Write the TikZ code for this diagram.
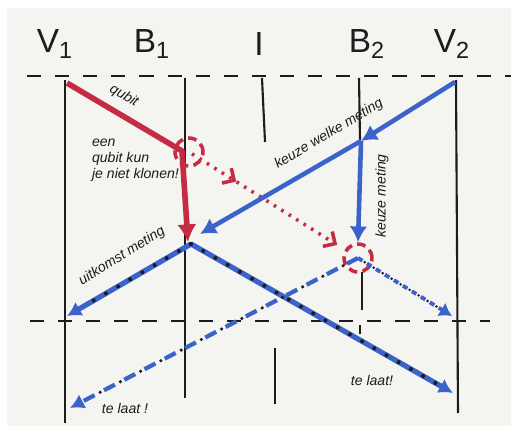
\documentclass[tikz,border=0pt]{standalone}
\usepackage{fontspec}
\setmainfont{Liberation Sans}
\usetikzlibrary{arrows.meta,decorations.markings}
\definecolor{skPaper}{HTML}{F4F4F1}
\definecolor{skInk}{HTML}{1C1C1C}
\definecolor{skRed}{HTML}{C52B42}
\definecolor{skBlue}{HTML}{3B63C9}

\begin{document}
\begin{tikzpicture}[x=0.02cm,y=-0.02cm, every node/.style={font=\itshape\fontsize{8}{9}\selectfont, text=skInk, inner sep=1pt},
  party/.style={font=\fontsize{19}{22}\selectfont, text=skInk},
  wall/.style={draw=skInk, line width=1.2pt},
  timeline/.style={draw=skInk, line width=1pt, dash pattern=on 8pt off 8pt},
  qubitline/.style={draw=skRed, line width=3.2pt, line join=round, -{Latex[length=10pt,width=11pt]}},
  ring/.style={circle, draw=skRed, line width=2pt, dash pattern=on 5pt off 3pt, minimum size=0.56cm, inner sep=0pt},
  copyline/.style={draw=skRed, line width=2pt, dash pattern=on 1.5pt off 3.5pt, shorten <=2pt, shorten >=14pt,
    -{Straight Barb[length=5pt,width=10pt,line width=2pt]},
    postaction={decorate, decoration={markings, mark=at position 0.28 with {\arrow[skRed,line width=2pt]{Straight Barb[length=5pt,width=10pt]}}}}},
  choice/.style={draw=skBlue, line width=2.6pt, -{Latex[length=9pt,width=10pt]}},
  meas/.style={draw=skBlue, line width=3pt, -{Latex[length=8pt,width=9pt]}},
  inkdots/.style={draw=skInk, line width=2.3pt, line cap=round, dash pattern=on 0pt off 8pt, shorten >=10pt},
  latemeas/.style={draw=skBlue, line width=2.4pt, dash pattern=on 7pt off 6pt, -{Latex[length=8pt,width=9pt]}},
  gapdots/.style={draw=skInk, line width=2pt, line cap=round, dash pattern=on 0pt off 13pt, dash phase=3.5pt, shorten >=10pt},
  smallmeas/.style={draw=skBlue, line width=2.2pt, dash pattern=on 3pt off 3pt, -{Latex[length=7pt,width=9pt]}},
  finedots/.style={draw=skInk, line width=1.6pt, line cap=round, dash pattern=on 0pt off 6pt, dash phase=1.5pt, shorten >=9pt}]
  \useasboundingbox[fill=white] (0,0) rectangle (511,429);
  \fill[skPaper] (7,8) rectangle (511,426);

  \node[party] (nameV1) at (55,44) {V\textsubscript{1}};
  \node[party] (nameB1) at (152,44) {B\textsubscript{1}};
  \node[party] (nameI) at (259,44) {I};
  \node[party] (nameB2) at (367,44) {B\textsubscript{2}};
  \node[party] (nameV2) at (452,44) {V\textsubscript{2}};

  \draw[timeline] (27,76) -- (511,76);
  \draw[timeline] (30,321) -- (490,321);
  \draw[wall] (65,80) -- (65,423);
  \draw[wall] (185,78) -- (185,398);
  \draw[wall] (262,78) -- (265,142);
  \draw[wall] (275,348) -- (275,404);
  \draw[wall] (359,78) -- (360,140);
  \draw[wall] (362,272) -- (362,310);
  \draw[wall] (360,325) -- (360,334);
  \draw[wall] (456,80) -- (458,413);

  \coordinate (v1top) at (67,83);
  \coordinate (qsplit) at (182,151);
  \coordinate (qend) at (188,242);
  \coordinate (v2top) at (455,82);
  \coordinate (kz) at (361,141);
  \coordinate (b1hit) at (200,234);
  \coordinate (meetB1) at (191,244);
  \coordinate (v1low) at (67,316);
  \coordinate (v2low) at (453,393);
  \coordinate (v1bot) at (70,408);
  \coordinate (v2mid) at (452,316);

  \node[ring] (ringB1) at (189,152) {};
  \node[ring] (ringB2) at (358,258) {};

  \draw[copyline] (ringB1.center) -- (ringB2.center);
  \draw[qubitline] (v1top) -- (qsplit) -- (qend);
  \draw[choice] (v2top) -- (kz);
  \draw[choice] (kz) -- (b1hit);
  \draw[choice] (kz) -- (ringB2.north);

  \draw[meas] (meetB1) -- (v1low);
  \draw[inkdots] (meetB1) -- (v1low);
  \draw[meas] (meetB1) -- (v2low);
  \draw[inkdots] (meetB1) -- (v2low);
  \draw[latemeas] (ringB2.center) -- (v1bot);
  \draw[gapdots] (ringB2.center) -- (v1bot);
  \draw[smallmeas] (ringB2.center) -- (v2mid);
  \draw[finedots] (ringB2.center) -- (v2mid);

  \node[rotate=-30] (txtQubit) at (124,96) {qubit};
  \node[anchor=north west, align=left] (txtClone) at (90,137) {een\\qubit kun\\je niet klonen!};
  \node[rotate=31] (txtWhich) at (329,134) {keuze welke meting};
  \node[rotate=90] (txtChoice) at (382,196) {keuze meting};
  \node[rotate=32] (txtOutcome) at (122,256) {uitkomst meting};
  \node (txtLateR) at (372,380) {te laat!};
  \node (txtLateL) at (125,408) {te laat !};
\end{tikzpicture}
\end{document}
